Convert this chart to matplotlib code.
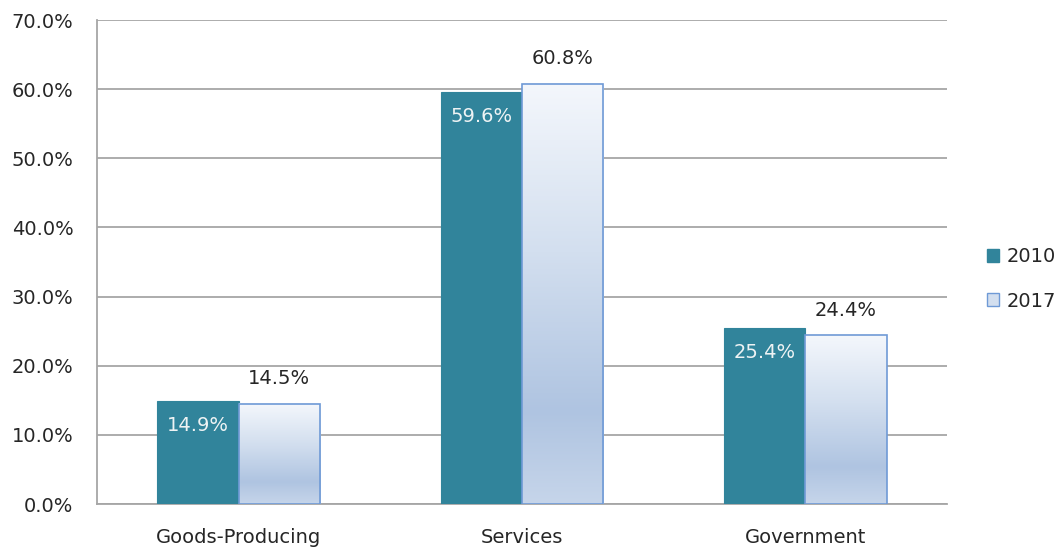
import matplotlib
matplotlib.use("Agg")
import matplotlib.pyplot as plt
import numpy as np
from matplotlib.colors import LinearSegmentedColormap
from matplotlib.patches import Rectangle

categories = ["Goods-Producing", "Services", "Government"]
series_names = ["2010", "2017"]
values_2010 = [14.9, 59.6, 25.4]
values_2017 = [14.5, 60.8, 24.4]
yticks = [0, 10, 20, 30, 40, 50, 60, 70]

plt.rcParams['font.family'] = ['DejaVu Sans']

fig = plt.figure(figsize=(10.6, 5.48), dpi=100)
ax = fig.add_axes([97/1060, 1-504/548, (947-97)/1060, (504-20)/548])

teal = "#31849B"
edge = "#6F9AD6"
txt = "#262626"
gridc = "#A6A6A6"
grad = LinearSegmentedColormap.from_list(
    "g", [(0.0, "#C6D5EA"), (0.22, "#AFC4E1"), (0.6, "#D3DFEF"), (1.0, "#F4F7FC")])

x = np.arange(len(categories))
w = 0.287

ax.set_xlim(-0.5, 2.5)
ax.set_ylim(0, 70)

bars1 = ax.bar(x - w/2, values_2010, w, color=teal, edgecolor=teal, linewidth=0.8, zorder=3)
bars2 = ax.bar(x + w/2, values_2017, w, facecolor="none", edgecolor=edge, linewidth=1.2, zorder=4)

gimg = np.linspace(0, 1, 256).reshape(-1, 1)
for b in bars2:
    x0, y0 = b.get_x(), b.get_y()
    bw, bh = b.get_width(), b.get_height()
    ax.imshow(gimg, cmap=grad, origin="lower", aspect="auto",
              extent=[x0, x0 + bw, y0, y0 + bh], zorder=3, interpolation="bilinear")

for b, v in zip(bars1, values_2010):
    ax.text(b.get_x() + b.get_width()/2, v - 3.5, f"{v:.1f}%", ha="center", va="center",
            color="#EEF3F4", fontsize=14, zorder=5)
for b, v in zip(bars2, values_2017):
    ax.text(b.get_x() + b.get_width()/2, v + 3.6, f"{v:.1f}%", ha="center", va="center",
            color=txt, fontsize=14, zorder=5)

ax.set_yticks(yticks)
ax.set_yticklabels([f"{t:.1f}%" for t in yticks], fontsize=14, color=txt)
ax.set_xticks(x)
ax.set_xticklabels(categories, fontsize=14, color=txt)
ax.tick_params(axis="x", length=0, pad=17)
ax.tick_params(axis="y", length=0, pad=17)

ax.yaxis.grid(True, color=gridc, linewidth=1.3, zorder=0)
ax.set_axisbelow(True)
for s in ["top", "right"]:
    ax.spines[s].set_visible(False)
for s in ["left", "bottom"]:
    ax.spines[s].set_color(gridc)
    ax.spines[s].set_linewidth(1.3)

h1 = Rectangle((0, 0), 1, 1, facecolor=teal, edgecolor=teal)
h2 = Rectangle((0, 0), 1, 1, facecolor="#D3DFEF", edgecolor=edge)
leg = fig.legend([h1, h2], series_names, loc="center left",
                 bbox_to_anchor=(987/1060, 1-279/548), frameon=False, fontsize=14,
                 borderpad=0, borderaxespad=0,
                 handlelength=0.62, handleheight=0.62, handletextpad=0.4, labelspacing=1.3)
for t in leg.get_texts():
    t.set_color(txt)

fig.savefig("out.png", dpi=100)
